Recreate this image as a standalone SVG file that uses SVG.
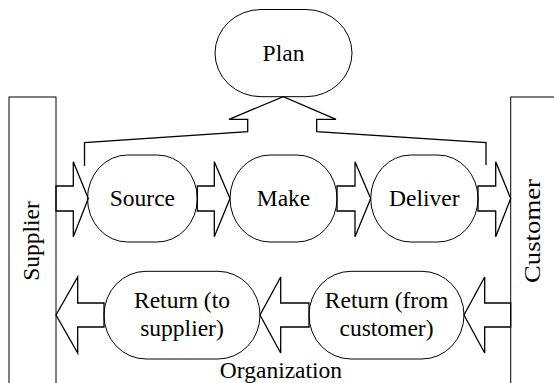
<svg xmlns="http://www.w3.org/2000/svg" width="554" height="383" viewBox="0 0 554 383">
  <style>
    .shape { fill: none; stroke: #000; stroke-width: 1; }
    .arrow { fill: none; stroke: #000; stroke-width: 1.3; stroke-linejoin: miter; }
    .lbl { font-family: "Liberation Serif", "Times New Roman", serif; font-size: 23.5px; fill: #000; text-anchor: middle; }
  </style>
  <rect x="0" y="0" width="554" height="383" fill="#fff"/>

  <g id="supplier">
    <rect class="shape" x="9" y="97" width="47" height="300"/>
    <text class="lbl" transform="translate(38.5,241) rotate(-90)">Supplier</text>
  </g>
  <g id="customer">
    <rect class="shape" x="510.7" y="97" width="60" height="300"/>
    <text class="lbl" transform="translate(539.5,231) rotate(-90)" textLength="104" lengthAdjust="spacingAndGlyphs">Customer</text>
  </g>
  <g id="plan">
    <rect class="shape" x="215" y="9.5" width="137" height="87.2" rx="46" ry="43.6"/>
    <text class="lbl" x="283.5" y="61">Plan</text>
  </g>
  <g id="source">
    <rect class="shape" x="87.5" y="155" width="109.8" height="87" rx="40" ry="43.5"/>
    <text class="lbl" x="142.4" y="206">Source</text>
  </g>
  <g id="make">
    <rect class="shape" x="230" y="155" width="107" height="87" rx="40" ry="43.5"/>
    <text class="lbl" x="283.5" y="206">Make</text>
  </g>
  <g id="deliver">
    <rect class="shape" x="370.7" y="155" width="107.3" height="87" rx="40" ry="43.5"/>
    <text class="lbl" x="424.3" y="206">Deliver</text>
  </g>
  <g id="return-to-supplier">
    <rect class="shape" x="104" y="271.3" width="156" height="87.7" rx="42" ry="43.8"/>
    <text class="lbl" x="182" y="308">Return (to</text>
    <text class="lbl" x="182" y="335.7">supplier)</text>
  </g>
  <g id="return-from-customer">
    <rect class="shape" x="309" y="271.3" width="155" height="87.7" rx="42" ry="43.8"/>
    <text class="lbl" x="386.5" y="308">Return (from</text>
    <text class="lbl" x="386.5" y="335.7">customer)</text>
  </g>
  <g id="organization">
    <text class="lbl" x="281" y="377.5">Organization</text>
  </g>

  <g id="connectors">
    <polyline class="arrow" points="84.5,166 84.5,142.7 247.7,131.7 247.7,119.3 229,119.3 283.3,96.7 336,119.3 316.7,119.3 316.7,131.7 486,142.7 486,165"/>
    <polygon class="arrow" points="56,186 73.3,186 73.3,161.7 88.3,198.5 73.3,236.7 73.3,211 56,211"/>
    <polygon class="arrow" points="197.3,186 214.3,186 214.3,161.7 230,198.5 214.3,236.7 214.3,211 197.3,211"/>
    <polygon class="arrow" points="337,186 355,186 355,161.7 370.7,198.5 355,236.7 355,211 337,211"/>
    <polygon class="arrow" points="478,186 495.7,186 495.7,161.7 510.7,198.5 495.7,236.7 495.7,211 478,211"/>
    <polygon class="arrow" points="104,303 77.7,303 77.7,277 56,315 77.7,353 77.7,327 104,327"/>
    <polygon class="arrow" points="309,303 280.7,303 280.7,277 260,315 280.7,353 280.7,327 309,327"/>
    <polygon class="arrow" points="510.7,303 484.7,303 484.7,277 464,315 484.7,353 484.7,327 510.7,327"/>
  </g>
</svg>
